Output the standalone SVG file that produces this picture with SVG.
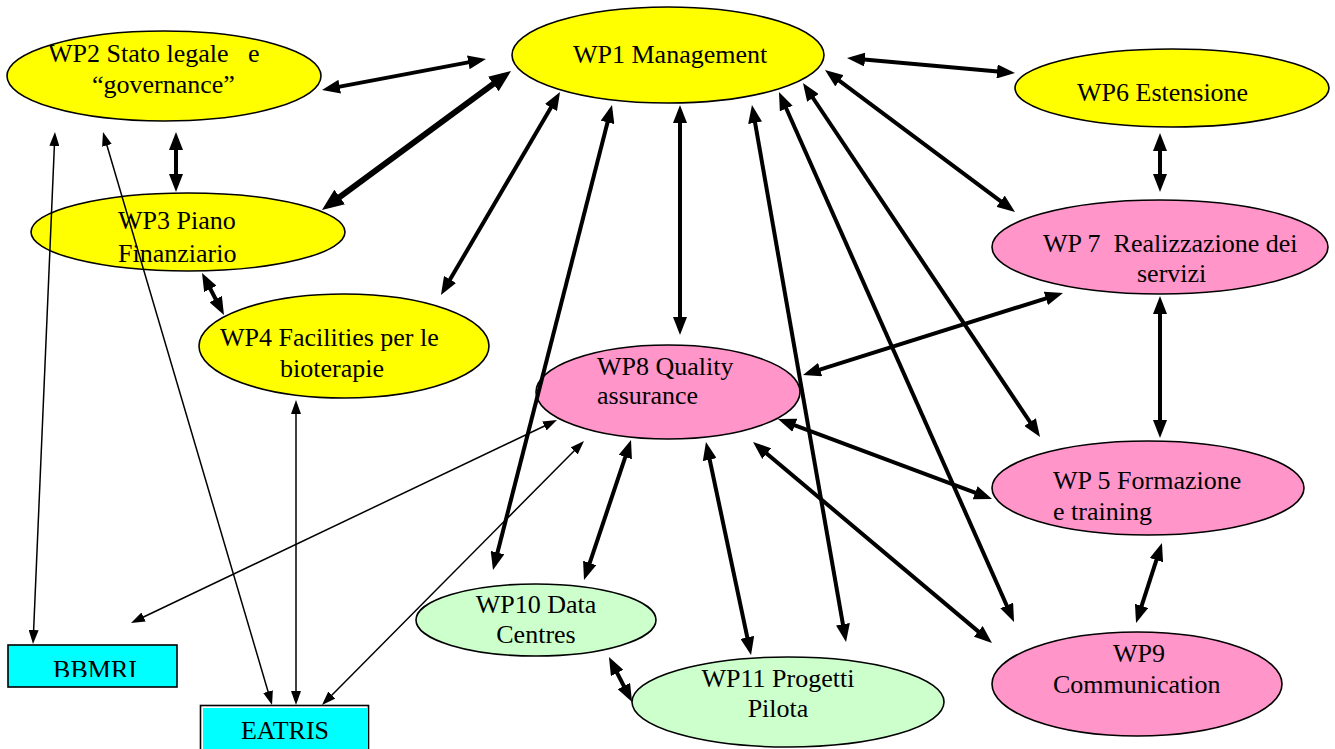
<svg xmlns="http://www.w3.org/2000/svg" width="1335" height="749" viewBox="0 0 1335 749">
<style>
.y{fill:#FFFF00;stroke:#000;stroke-width:1.6}
.p{fill:#FF95C8;stroke:#000;stroke-width:1.6}
.g{fill:#CCFFCC;stroke:#000;stroke-width:1.6}
text{font-family:'Liberation Serif',serif;font-size:26px;fill:#000}
.c{text-anchor:middle}
.k{stroke:#000;fill:none;stroke-width:4;marker-start:url(#ah);marker-end:url(#ah)}
.kk{stroke:#000;fill:none;stroke-width:6;marker-start:url(#ahb);marker-end:url(#ahb)}
.t{stroke:#000;fill:none;stroke-width:1.5;marker-start:url(#ahs);marker-end:url(#ahs)}
</style>
<defs>
<marker id="ah" markerUnits="userSpaceOnUse" markerWidth="18" markerHeight="14" refX="12" refY="7" orient="auto-start-reverse"><path d="M0,0 L18,7 L0,14 z" fill="#000"/></marker>
<marker id="ahb" markerUnits="userSpaceOnUse" markerWidth="22" markerHeight="18" refX="14" refY="9" orient="auto-start-reverse"><path d="M0,0 L22,9 L0,18 z" fill="#000"/></marker>
<marker id="ahs" markerUnits="userSpaceOnUse" markerWidth="14" markerHeight="10" refX="10" refY="5" orient="auto-start-reverse"><path d="M0,0 L14,5 L0,10 z" fill="#000"/></marker>
<clipPath id="bbclip"><rect x="8" y="645" width="169" height="32"/></clipPath>
</defs>
<rect x="0" y="0" width="1335" height="749" fill="#fff"/>
<g id="WP1"><ellipse class="y" cx="668" cy="55" rx="156" ry="48"/><text x="573" y="63">WP1 Management</text></g>
<g id="WP2"><ellipse class="y" cx="164" cy="76" rx="157" ry="45"/><text x="48" y="62" xml:space="preserve">WP2 Stato legale   e</text><text x="92" y="93">“governance”</text></g>
<g id="WP6"><ellipse class="y" cx="1172" cy="88" rx="157" ry="39"/><text x="1077" y="101">WP6 Estensione</text></g>
<g id="WP3"><ellipse class="y" cx="188" cy="232" rx="157" ry="39"/><text x="118" y="229">WP3 Piano</text><text x="118" y="262">Finanziario</text></g>
<g id="WP4"><ellipse class="y" cx="344" cy="346" rx="145" ry="52"/><text x="220" y="346">WP4 Facilities per le</text><text x="280" y="377">bioterapie</text></g>
<g id="WP8"><ellipse class="p" cx="668" cy="392" rx="132" ry="47"/><text x="597" y="375">WP8 Quality</text><text x="597" y="404">assurance</text></g>
<g id="WP7"><ellipse class="p" cx="1160" cy="247" rx="168" ry="47"/><text x="1043" y="252" xml:space="preserve">WP 7  Realizzazione dei</text><text x="1137" y="282">servizi</text></g>
<g id="WP5"><ellipse class="p" cx="1148" cy="488" rx="156" ry="47"/><text x="1053" y="489">WP 5 Formazione</text><text x="1053" y="520">e training</text></g>
<g id="WP9"><ellipse class="p" cx="1137" cy="684" rx="145" ry="52"/><text class="c" x="1139" y="662">WP9</text><text x="1053" y="693">Communication</text></g>
<g id="WP10"><ellipse class="g" cx="536" cy="620" rx="120" ry="36"/><text class="c" x="536" y="613">WP10 Data</text><text class="c" x="536" y="643">Centres</text></g>
<g id="WP11"><ellipse class="g" cx="788" cy="702" rx="156" ry="45"/><text class="c" x="778" y="687">WP11 Progetti</text><text class="c" x="778" y="717">Pilota</text></g>
<g id="BBMRI"><rect x="8" y="645" width="169" height="42" fill="#00FFFF" stroke="#000" stroke-width="1.6"/><text class="c" x="95" y="678" clip-path="url(#bbclip)">BBMRI</text></g>
<g id="EATRIS"><rect x="200.5" y="705.5" width="168" height="50" fill="#fff" stroke="#000" stroke-width="1.6"/><rect x="203" y="708" width="164.5" height="45" fill="#00FFFF"/><text class="c" x="285" y="739">EATRIS</text></g>
<g id="connectors">
<line class="k" x1="327.9" y1="88.9" x2="480.1" y2="60.1"/>
<line class="kk" x1="328.4" y1="205.3" x2="504.6" y2="75.7"/>
<line class="k" x1="176" y1="138" x2="176" y2="186"/>
<line class="k" x1="204.8" y1="278.3" x2="221.2" y2="309.7"/>
<line class="k" x1="557" y1="97.2" x2="444" y2="289.8"/>
<line class="k" x1="610.5" y1="110.8" x2="494.5" y2="564.2"/>
<line class="k" x1="629.1" y1="445.7" x2="585.9" y2="574.3"/>
<line class="k" x1="680" y1="111" x2="680" y2="329"/>
<line class="k" x1="753" y1="110.9" x2="845" y2="636.1"/>
<line class="k" x1="707.2" y1="447.9" x2="749.8" y2="649.1"/>
<line class="k" x1="781.4" y1="97.5" x2="1011.6" y2="616.5"/>
<line class="k" x1="806.3" y1="88" x2="1036.7" y2="432"/>
<line class="k" x1="829.8" y1="73.6" x2="1010.2" y2="208.4"/>
<line class="k" x1="853" y1="58.5" x2="1009" y2="72.5"/>
<line class="k" x1="1160" y1="139" x2="1160" y2="186"/>
<line class="k" x1="1160" y1="302" x2="1160" y2="432"/>
<line class="k" x1="808.7" y1="373.2" x2="1057.3" y2="294.8"/>
<line class="k" x1="783.6" y1="421.1" x2="986.4" y2="496.9"/>
<line class="k" x1="757.6" y1="445.9" x2="987.4" y2="639.1"/>
<line class="k" x1="1160.1" y1="548.7" x2="1137.9" y2="617.3"/>
<line class="k" x1="611.7" y1="662.3" x2="629.3" y2="696.7"/>
<line class="t" x1="54.8" y1="136" x2="33.2" y2="640"/>
<line class="t" x1="104.1" y1="135.8" x2="270.9" y2="701.2"/>
<line class="t" x1="296" y1="404" x2="296" y2="701"/>
<line class="t" x1="553.4" y1="421.7" x2="134.6" y2="621.3"/>
<line class="t" x1="581.2" y1="443.8" x2="324.8" y2="702.2"/>
</g>
</svg>
